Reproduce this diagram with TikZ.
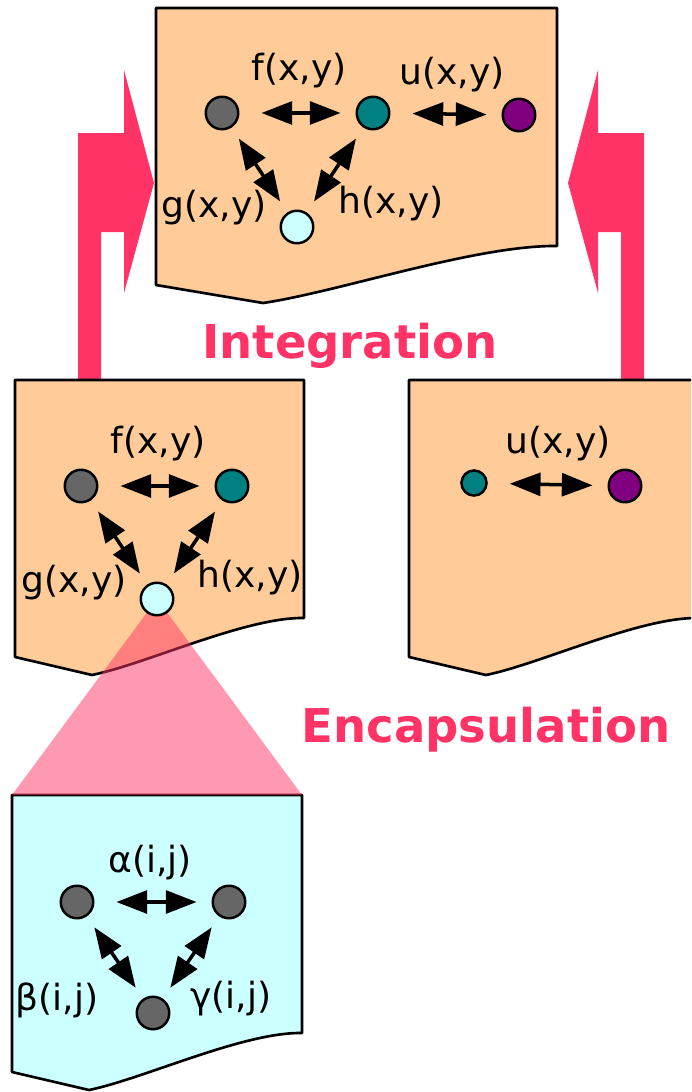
\documentclass[tikz,border=0pt]{standalone}
\usepackage{fontspec}
\setmainfont{DejaVu Sans}
\usepackage{xcolor}
\usepackage{tikz}
\usetikzlibrary{arrows.meta}

\definecolor{peach}{HTML}{FFCC99}
\definecolor{paleblue}{HTML}{CCFFFF}
\definecolor{hotpink}{HTML}{FF3366}
\definecolor{greydot}{HTML}{666666}
\definecolor{tealdot}{HTML}{008080}
\definecolor{purpledot}{HTML}{800080}

\begin{document}
\begin{tikzpicture}[
  x=0.02cm, y=-0.02cm,
  page/.style={draw, line width=1.5pt, line join=round},
  dot/.style={circle, draw, line width=1.4pt, minimum size=18.5pt, inner sep=0pt},
  smalldot/.style={dot, minimum size=14.3pt},
  link/.style={{Triangle[length=17.5pt,width=13pt]}-{Triangle[length=17.5pt,width=13pt]}, line width=2pt, shorten <=12.5pt, shorten >=8.5pt},
  slant/.style={link, shorten <=7.5pt, shorten >=7.5pt},
  lbl/.style={anchor=base, font=\fontsize{20.5}{24}\selectfont, inner sep=0pt},
  title/.style={anchor=base, font=\fontsize{26.5}{30}\selectfont\bfseries, text=hotpink, inner sep=0pt}
]
  \clip (0,0) rectangle (691,1092);

  % integration arrows
  \fill[hotpink] (78,380) -- (78,133) -- (124,133) -- (124,70) -- (154,183) -- (124,293) -- (124,232) -- (101,232) -- (101,380) -- cycle;
  \fill[hotpink] (644,380) -- (644,133) -- (598,133) -- (598,70) -- (568,183) -- (598,293) -- (598,232) -- (621,232) -- (621,380) -- cycle;

  % pages
  \draw[page, fill=peach] (156,8) -- (557,8) -- (557,246) .. controls (476,245) and (338,292) .. (263,303) -- (156,285) -- cycle;
  \draw[page, fill=peach] (15,380) -- (304,380) -- (304,618) .. controls (246,617) and (146,664) .. (92,675) -- (15,657) -- cycle;
  \draw[page, fill=peach] (409,380) -- (698,380) -- (698,618) .. controls (640,617) and (540,664) .. (486,675) -- (409,657) -- cycle;
  \draw[page, fill=paleblue] (12,795) -- (302,795) -- (302,1033) .. controls (243,1032) and (143,1079) .. (89,1090) -- (12,1072) -- cycle;

  % encapsulation cone
  \coordinate (apex) at (157,599);
  \coordinate (conel) at (12,795);
  \coordinate (coner) at (302,795);
  \fill[hotpink, fill opacity=0.5] (apex) -- (conel) -- (coner) -- cycle;

  % merged model
  \node[dot, fill=greydot] (tg) at (222,113) {};
  \node[dot, fill=tealdot] (tt) at (373,113) {};
  \node[dot, fill=purpledot] (tp) at (519,115) {};
  \node[dot, fill=paleblue] (tc) at (297,227) {};
  \draw[link] (tg) -- (tt);
  \draw[link] (tt) -- (tp);
  \draw[slant] (tg) -- (tc);
  \draw[slant] (tt) -- (tc);
  \node[lbl] (tf) at (299,80) {f(x,y)};
  \node[lbl] (tu) at (452,84) {u(x,y)};
  \node[lbl] (tgl) at (214,217) {g(x,y)};
  \node[lbl] (thl) at (391,213) {h(x,y)};

  % left model
  \node[dot, fill=greydot] (lg) at (81,486) {};
  \node[dot, fill=tealdot] (lt) at (232,486) {};
  \node[dot, fill=paleblue] (lc) at (apex) {};
  \draw[link] (lg) -- (lt);
  \draw[slant] (lg) -- (lc);
  \draw[slant] (lt) -- (lc);
  \node[lbl] (lf) at (158,453) {f(x,y)};
  \node[lbl] (lgl) at (74,592) {g(x,y)};
  \node[lbl] (lhl) at (250,587) {h(x,y)};

  % right model
  \node[smalldot, fill=tealdot] (rt) at (474,483) {};
  \node[dot, fill=purpledot] (rp) at (625,486) {};
  \draw[link] (rt) -- (rp);
  \node[lbl] (ru) at (558,453) {u(x,y)};

  % inner model
  \node[dot, fill=greydot] (ba) at (77,902) {};
  \node[dot, fill=greydot] (bb) at (229,902) {};
  \node[dot, fill=greydot] (bc) at (153,1013) {};
  \draw[link] (ba) -- (bb);
  \draw[slant] (ba) -- (bc);
  \draw[slant] (bb) -- (bc);
  \node[lbl] (balpha) at (150,872) {α(i,j)};
  \node[lbl] (bbeta) at (57,1010) {β(i,j)};
  \node[lbl] (bgamma) at (231,1008) {γ(i,j)};

  % titles
  \node[title] (integ) at (350,358) {Integration};
  \node[title] (encap) at (486,742) {Encapsulation};
\end{tikzpicture}
\end{document}
